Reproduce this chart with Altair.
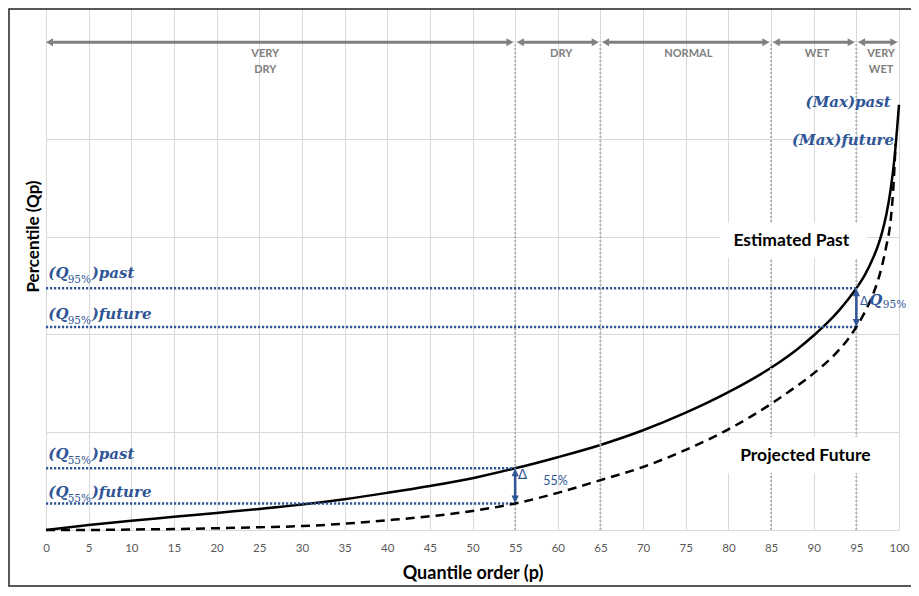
import altair as alt
import pandas as pd

# ---------------- data ----------------
# Estimated past curve (solid)
p_past = [0, 5, 10, 15, 20, 25, 30, 35, 40, 45, 50, 55, 60, 65, 70, 75, 80, 85, 88,
          90, 91, 92, 93, 94, 95, 96, 97, 97.5, 98, 98.5, 99, 99.5, 100]
q_past = [0, 0.05, 0.095, 0.135, 0.175, 0.215, 0.26, 0.315, 0.38, 0.45, 0.53, 0.631,
          0.745, 0.87, 1.02, 1.2, 1.41, 1.66, 1.845, 1.99, 2.07, 2.155, 2.25, 2.355, 2.473,
          2.61, 2.79, 2.9, 3.04, 3.22, 3.47, 3.83, 4.35]
# Projected future curve (dashed)
p_future = [0, 5, 10, 15, 20, 25, 30, 35, 40, 45, 50, 55, 60, 65, 70, 75, 80, 85, 87, 89,
            91, 93, 94, 95, 96, 97, 98, 98.5, 99, 99.3, 99.6]
q_future = [0, 0.0, 0.005, 0.01, 0.018, 0.028, 0.04, 0.065, 0.10, 0.14, 0.195, 0.271, 0.38,
            0.51, 0.645, 0.82, 1.03, 1.29, 1.41, 1.535, 1.675, 1.845, 1.95, 2.077, 2.23,
            2.42, 2.70, 2.90, 3.15, 3.45, 3.95]

x_ticks = list(range(0, 101, 5))
y_grid = [0, 1, 2, 3, 4, 5]

# climate classes
class_start = [0, 55.2, 65.2, 85.2, 95.2]
class_end = [54.8, 64.8, 84.8, 94.8, 99.8]
class_names = ["VERY\nDRY", "DRY", "NORMAL", "WET", "VERY\nWET"]
class_label_p = [25.7, 60.4, 75.3, 90.4, 97.9]
class_bounds = [55, 65, 85, 95]
arrow_level = 4.99
bound_top = 4.97
class_label_level = 4.84

# reference quantile levels
q_levels = [2.473, 2.077, 0.631, 0.271]
q_level_end = [95, 95, 55, 55]
q_sub = ["95%", "95%", "55%", "55%"]
q_tail = [")past", ")future", ")past", ")future"]
q_label_base = [2.578, 2.159, 0.731, 0.338]
q_part_x = [0.27, 2.54, 5.36]

# delta arrows
delta_p = [55, 95]
delta_top = [0.631, 2.473]
delta_bottom = [0.271, 2.077]

# max labels
max_text = ["(Max)past", "(Max)future"]
max_x = [99.02, 99.42]
max_y = [4.327, 3.939]

# boxed series labels
box_text = ["Estimated Past", "Projected Future"]
box_cx = [87.38, 89.02]
box_base = [2.905, 0.706]
box_x1 = [78.97, 79.67]
box_x2 = [96.26, 98.36]
box_y1 = [3.141, 0.951]
box_y2 = [2.783, 0.583]

BLUE = "#2F5597"
GREY = "#808080"

# ---------------- encodings ----------------
xs = alt.Scale(domain=[0, 100], nice=False, zero=False)
ys = alt.Scale(domain=[0, 5.34], nice=False, zero=False)
xaxis = alt.Axis(values=x_ticks, grid=True, gridColor="#d9d9d9", gridWidth=1, domain=False,
                 ticks=False, tickSize=0, labelFont="Lato", labelFontSize=11.5,
                 labelColor="#595959", labelBaseline="alphabetic", labelPadding=21,
                 labelFlush=False, labelOverlap=False, title="Quantile order (p)",
                 titleFont="Lato", titleFontSize=18, titleFontWeight="bold",
                 titleColor="#000000", titleY=48, titleBaseline="alphabetic")
yaxis = alt.Axis(values=y_grid, grid=True, gridColor="#d9d9d9", gridWidth=1, domain=False,
                 ticks=False, labels=False, title="Percentile (Qp)", titleFont="Lato",
                 titleFontSize=17, titleFontWeight="bold", titleColor="#000000",
                 titleX=-8, titleY=228, titleAngle=270, titleAlign="center",
                 titleBaseline="alphabetic")
X = alt.X("p:Q", scale=xs, axis=xaxis)
Y = alt.Y("v:Q", scale=ys, axis=yaxis)

# ---------------- tables ----------------
past_df = pd.DataFrame({"p": p_past, "v": q_past})
fut_df = pd.DataFrame({"p": p_future, "v": q_future})

bounds_df = pd.DataFrame({"p": class_bounds, "v": [0] * 4, "v2": [bound_top] * 4})
boxes_df = pd.DataFrame({"p": box_x1, "p2": box_x2, "v": box_y1, "v2": box_y2})
qlines_df = pd.DataFrame({"p": [0] * 4, "p2": q_level_end, "v": q_levels})

arr_df = pd.DataFrame({"p": [s + 0.5 for s in class_start], "p2": [e - 0.5 for e in class_end],
                       "v": [arrow_level] * 5})
head_l = pd.DataFrame({"p": class_start, "v": [arrow_level] * 5})
head_r = pd.DataFrame({"p": class_end, "v": [arrow_level] * 5})
cls_lab = pd.DataFrame({"p": class_label_p, "v": [class_label_level] * 5, "t": class_names})

main_lab = pd.DataFrame({"p": [q_part_x[0]] * 4, "v": q_label_base, "t": ["(Q"] * 4})
sub_lab = pd.DataFrame({"p": [q_part_x[1]] * 4, "v": q_label_base, "t": q_sub})
tail_lab = pd.DataFrame({"p": [q_part_x[2]] * 4, "v": q_label_base, "t": q_tail})

darr_df = pd.DataFrame({"p": delta_p, "v": [b + 0.05 for b in delta_bottom],
                        "v2": [t - 0.05 for t in delta_top]})
dhead_up = pd.DataFrame({"p": delta_p, "v": delta_top})
dhead_dn = pd.DataFrame({"p": delta_p, "v": delta_bottom})

max_df = pd.DataFrame({"p": max_x, "v": max_y, "t": max_text})
box_lab = pd.DataFrame({"p": box_cx, "v": box_base, "t": box_text})

# delta labels
d95_delta_df = pd.DataFrame({"p": [95.44], "v": [2.302], "t": ["Δ"]})
d55_delta_df = pd.DataFrame({"p": [55.3], "v": [0.522], "t": ["Δ"]})
dq95_q = pd.DataFrame({"p": [96.5], "v": [2.302], "t": ["Q"]})
dq95_sub = pd.DataFrame({"p": [98.1], "v": [2.271], "t": ["95%"]})
d55_sub = pd.DataFrame({"p": [58.29], "v": [0.46], "t": ["55%"]})

# ---------------- layers ----------------
solid = alt.Chart(past_df).mark_line(color="black", strokeWidth=2.5, interpolate="monotone").encode(x=X, y=Y)
dashed = alt.Chart(fut_df).mark_line(color="black", strokeWidth=2.5, strokeDash=[9, 6],
                                     interpolate="monotone").encode(x=X, y=Y)

bounds = alt.Chart(bounds_df).mark_rule(color="#b4b4b4", strokeWidth=2, strokeDash=[2, 2]).encode(
    x=X, y=Y, y2=alt.Y2("v2:Q"))
boxes = alt.Chart(boxes_df).mark_rect(color="white").encode(x=X, x2=alt.X2("p2:Q"), y=Y, y2=alt.Y2("v2:Q"))
qlines = alt.Chart(qlines_df).mark_rule(color=BLUE, strokeWidth=2.5, strokeDash=[2.2, 1.8]).encode(
    x=X, x2=alt.X2("p2:Q"), y=Y)

arrows = alt.Chart(arr_df).mark_rule(color=GREY, strokeWidth=3).encode(x=X, x2=alt.X2("p2:Q"), y=Y)
heads_l = alt.Chart(head_l).mark_point(shape="M0,0L1.75,-1L1.75,1Z", filled=True, size=64,
                                       color=GREY, opacity=1, strokeWidth=0).encode(x=X, y=Y)
heads_r = alt.Chart(head_r).mark_point(shape="M0,0L-1.75,-1L-1.75,1Z", filled=True, size=64,
                                       color=GREY, opacity=1, strokeWidth=0).encode(x=X, y=Y)
cls_text = alt.Chart(cls_lab).mark_text(font="Lato", fontSize=11, fontWeight="bold", color=GREY,
                                        align="center", baseline="alphabetic", lineBreak="\n",
                                        lineHeight=16).encode(x=X, y=Y, text="t:N")

q_main = alt.Chart(main_lab).mark_text(font="DejaVu Serif", fontSize=15, fontStyle="italic",
                                       fontWeight="bold", color=BLUE, align="left",
                                       baseline="alphabetic").encode(x=X, y=Y, text="t:N")
q_subt = alt.Chart(sub_lab).mark_text(font="DejaVu Serif", fontSize=10.5, color=BLUE, align="left",
                                      baseline="alphabetic", dy=5).encode(x=X, y=Y, text="t:N")
q_tail = alt.Chart(tail_lab).mark_text(font="DejaVu Serif", fontSize=15, fontStyle="italic",
                                       fontWeight="bold", color=BLUE, align="left",
                                       baseline="alphabetic").encode(x=X, y=Y, text="t:N")

darrows = alt.Chart(darr_df).mark_rule(color=BLUE, strokeWidth=2.5).encode(x=X, y=Y, y2=alt.Y2("v2:Q"))
dup = alt.Chart(dhead_up).mark_point(shape="M0,0L-0.9,2L0.9,2Z", filled=True, size=64, color=BLUE,
                                     opacity=1, strokeWidth=0).encode(x=X, y=Y)
ddn = alt.Chart(dhead_dn).mark_point(shape="M0,0L-0.9,-2L0.9,-2Z", filled=True, size=64, color=BLUE,
                                     opacity=1, strokeWidth=0).encode(x=X, y=Y)

d95_delta = alt.Chart(d95_delta_df).mark_text(font="DejaVu Sans", fontSize=12, color=BLUE, align="left",
                                              baseline="alphabetic").encode(x=X, y=Y, text="t:N")
d55_delta = alt.Chart(d55_delta_df).mark_text(font="DejaVu Sans", fontSize=14, color=BLUE, align="left",
                                              baseline="alphabetic").encode(x=X, y=Y, text="t:N")
d_q = alt.Chart(dq95_q).mark_text(font="DejaVu Serif", fontSize=15, fontStyle="italic", fontWeight="bold",
                                  color=BLUE, align="left", baseline="alphabetic").encode(x=X, y=Y, text="t:N")
d_sub = alt.Chart(dq95_sub).mark_text(font="DejaVu Serif", fontSize=10.5, color=BLUE, align="left",
                                      baseline="alphabetic").encode(x=X, y=Y, text="t:N")
d55 = alt.Chart(d55_sub).mark_text(font="Lato", fontSize=12.5, color=BLUE, align="left",
                                   baseline="alphabetic").encode(x=X, y=Y, text="t:N")

max_t = alt.Chart(max_df).mark_text(font="DejaVu Serif", fontSize=15, fontStyle="italic",
                                    fontWeight="bold", color=BLUE, align="right",
                                    baseline="alphabetic").encode(x=X, y=Y, text="t:N")
box_t = alt.Chart(box_lab).mark_text(font="Lato", fontSize=17.5, fontWeight="bold", color="black",
                                     align="center", baseline="alphabetic").encode(x=X, y=Y, text="t:N")

frame = alt.Chart(pd.DataFrame({"k": [0]})).mark_rect(fillOpacity=0, stroke="#222222", strokeWidth=1.5).encode(
    x=alt.value(-37), x2=alt.value(890), y=alt.value(1), y2=alt.value(578))

chart = alt.layer(
    solid, bounds, boxes, qlines, arrows, heads_l, heads_r, cls_text,
    dashed, darrows, dup, ddn, q_main, q_subt, q_tail, d95_delta, d55_delta, d_q, d_sub, d55,
    max_t, box_t, frame
).properties(
    width=853, height=522,
    padding={"left": 38, "top": 0, "right": 12, "bottom": 58},
    autosize=alt.AutoSizeParams(type="none"),
).configure_view(stroke=None)

chart.save("out.html", embed_options={"renderer": "svg", "actions": False})
